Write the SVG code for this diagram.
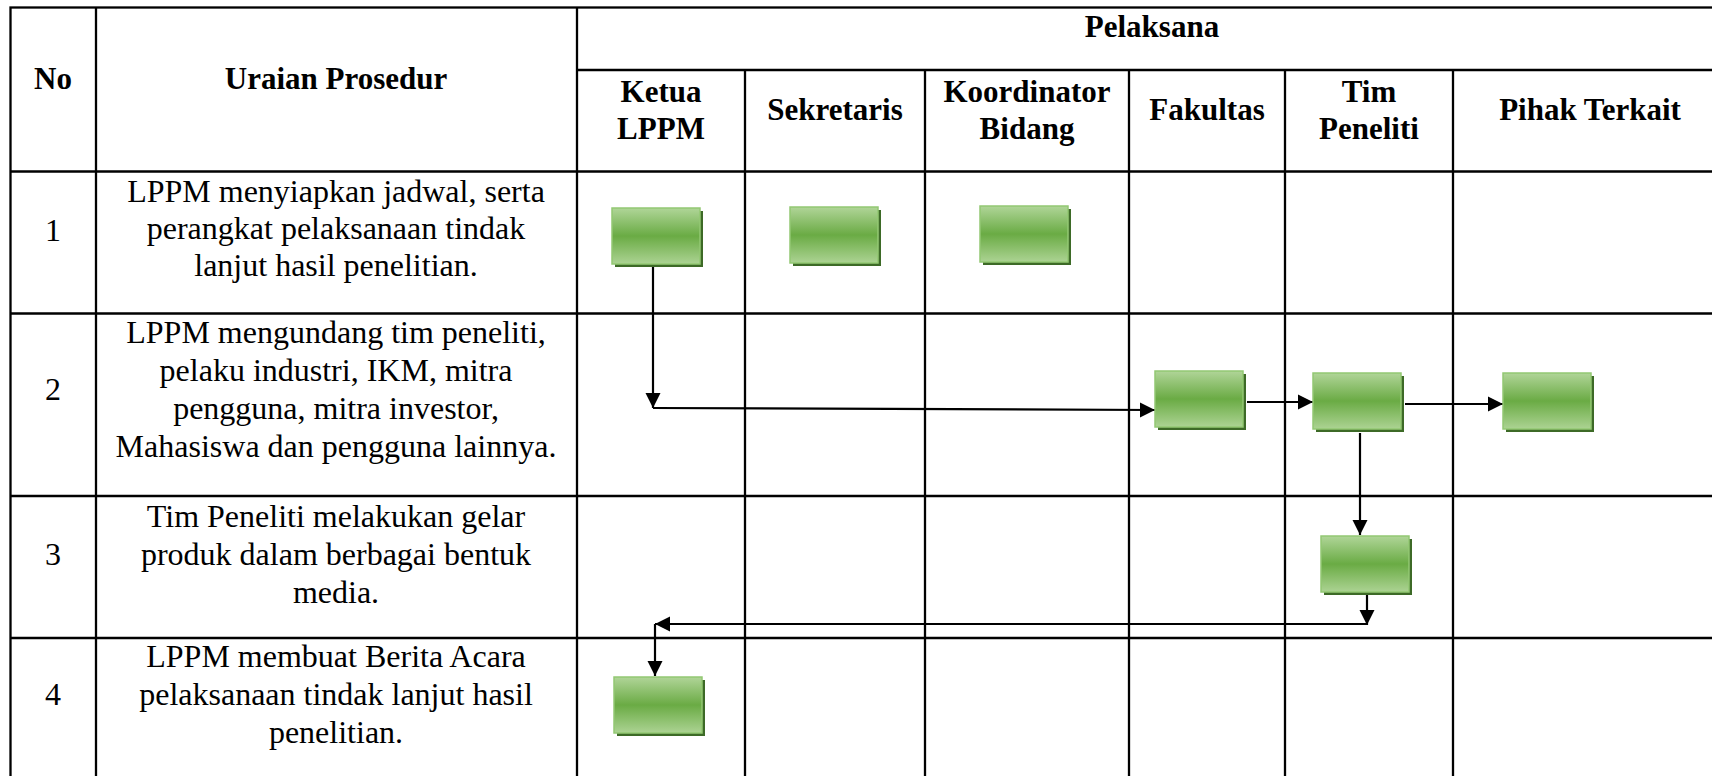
<svg xmlns="http://www.w3.org/2000/svg" width="1712" height="776" viewBox="0 0 1712 776">
<defs>
<linearGradient id="g" x1="0" y1="0" x2="0" y2="1">
<stop offset="0" stop-color="#b0d598"/>
<stop offset="0.5" stop-color="#6aab44"/>
<stop offset="1" stop-color="#acd393"/>
</linearGradient>
<marker id="ah" markerUnits="userSpaceOnUse" markerWidth="16" markerHeight="16" viewBox="0 0 16 16" refX="15" refY="8" orient="auto">
<path d="M0,0.5 L15,8 L0,15.5 Z" fill="#000"/>
</marker>
<style>
.grid{stroke:#000;stroke-width:2.3;fill:none}
.h{font-family:"Liberation Serif","Times New Roman",serif;font-weight:bold;font-size:31px;text-anchor:middle;fill:#000}
.t{font-family:"Liberation Serif","Times New Roman",serif;font-size:32px;text-anchor:middle;fill:#000}
.sh{fill:#3d6a27}
.bx{fill:url(#g);stroke:#93c873;stroke-width:1.5}
.ca{stroke:#000;stroke-width:2.2;fill:none;marker-end:url(#ah)}
</style>
</defs>
<rect width="1712" height="776" fill="#fff"/>
<g id="table">
<rect class="grid" x="10.5" y="7.5" width="1717" height="770"/>
<line class="grid" x1="96" y1="7.5" x2="96" y2="777"/>
<line class="grid" x1="577" y1="7.5" x2="577" y2="777"/>
<line class="grid" x1="577" y1="70" x2="1727" y2="70"/>
<line class="grid" x1="745" y1="70" x2="745" y2="777"/>
<line class="grid" x1="925" y1="70" x2="925" y2="777"/>
<line class="grid" x1="1129" y1="70" x2="1129" y2="777"/>
<line class="grid" x1="1285" y1="70" x2="1285" y2="777"/>
<line class="grid" x1="1453" y1="70" x2="1453" y2="777"/>
<line class="grid" x1="10.5" y1="171.5" x2="1727" y2="171.5"/>
<line class="grid" x1="10.5" y1="313.5" x2="1727" y2="313.5"/>
<line class="grid" x1="10.5" y1="496" x2="1727" y2="496"/>
<line class="grid" x1="10.5" y1="638" x2="1727" y2="638"/>
</g>
<g id="headers">
<text class="h" x="53" y="89">No</text>
<text class="h" x="336" y="89">Uraian Prosedur</text>
<text class="h" x="1152" y="37">Pelaksana</text>
<text class="h" x="661" y="102">Ketua</text>
<text class="h" x="661" y="139">LPPM</text>
<text class="h" x="835" y="120">Sekretaris</text>
<text class="h" x="1027" y="102">Koordinator</text>
<text class="h" x="1027" y="139">Bidang</text>
<text class="h" x="1207" y="120">Fakultas</text>
<text class="h" x="1369" y="102">Tim</text>
<text class="h" x="1369" y="139">Peneliti</text>
<text class="h" x="1590" y="120">Pihak Terkait</text>
</g>
<g id="rows">
<text class="t" x="53" y="241">1</text>
<text class="t" x="336" y="202">LPPM menyiapkan jadwal, serta</text>
<text class="t" x="336" y="239">perangkat pelaksanaan tindak</text>
<text class="t" x="336" y="276">lanjut hasil penelitian.</text>
<text class="t" x="53" y="400">2</text>
<text class="t" x="336" y="343">LPPM mengundang tim peneliti,</text>
<text class="t" x="336" y="381">pelaku industri, IKM, mitra</text>
<text class="t" x="336" y="419">pengguna, mitra investor,</text>
<text class="t" x="336" y="457">Mahasiswa dan pengguna lainnya.</text>
<text class="t" x="53" y="565">3</text>
<text class="t" x="336" y="527">Tim Peneliti melakukan gelar</text>
<text class="t" x="336" y="565">produk dalam berbagai bentuk</text>
<text class="t" x="336" y="603">media.</text>
<text class="t" x="53" y="705">4</text>
<text class="t" x="336" y="667">LPPM membuat Berita Acara</text>
<text class="t" x="336" y="705">pelaksanaan tindak lanjut hasil</text>
<text class="t" x="336" y="743">penelitian.</text>
</g>
<g id="connectors">
<line class="ca" x1="653" y1="266" x2="653" y2="408"/>
<line class="ca" x1="653" y1="408" x2="1155" y2="410"/>
<line class="ca" x1="1247" y1="402" x2="1313" y2="402"/>
<line class="ca" x1="1405" y1="404" x2="1503" y2="404"/>
<line class="ca" x1="1360" y1="433" x2="1360" y2="535"/>
<line class="ca" x1="1367" y1="595" x2="1367" y2="625"/>
<line class="ca" x1="1367" y1="624" x2="655" y2="624"/>
<line class="ca" x1="655" y1="624" x2="655" y2="676"/>
</g>
<g id="n1"><rect class="sh" x="615" y="211" width="88" height="56"/><rect class="bx" x="612" y="208" width="88" height="56"/></g>
<g id="n2"><rect class="sh" x="793" y="210" width="88" height="56"/><rect class="bx" x="790" y="207" width="88" height="56"/></g>
<g id="n3"><rect class="sh" x="983" y="209" width="88" height="56"/><rect class="bx" x="980" y="206" width="88" height="56"/></g>
<g id="n4"><rect class="sh" x="1158" y="374" width="88" height="56"/><rect class="bx" x="1155" y="371" width="88" height="56"/></g>
<g id="n5"><rect class="sh" x="1316" y="376" width="88" height="56"/><rect class="bx" x="1313" y="373" width="88" height="56"/></g>
<g id="n6"><rect class="sh" x="1506" y="376" width="88" height="56"/><rect class="bx" x="1503" y="373" width="88" height="56"/></g>
<g id="n7"><rect class="sh" x="1324" y="539" width="88" height="56"/><rect class="bx" x="1321" y="536" width="88" height="56"/></g>
<g id="n8"><rect class="sh" x="617" y="680" width="88" height="56"/><rect class="bx" x="614" y="677" width="88" height="56"/></g>
</svg>
